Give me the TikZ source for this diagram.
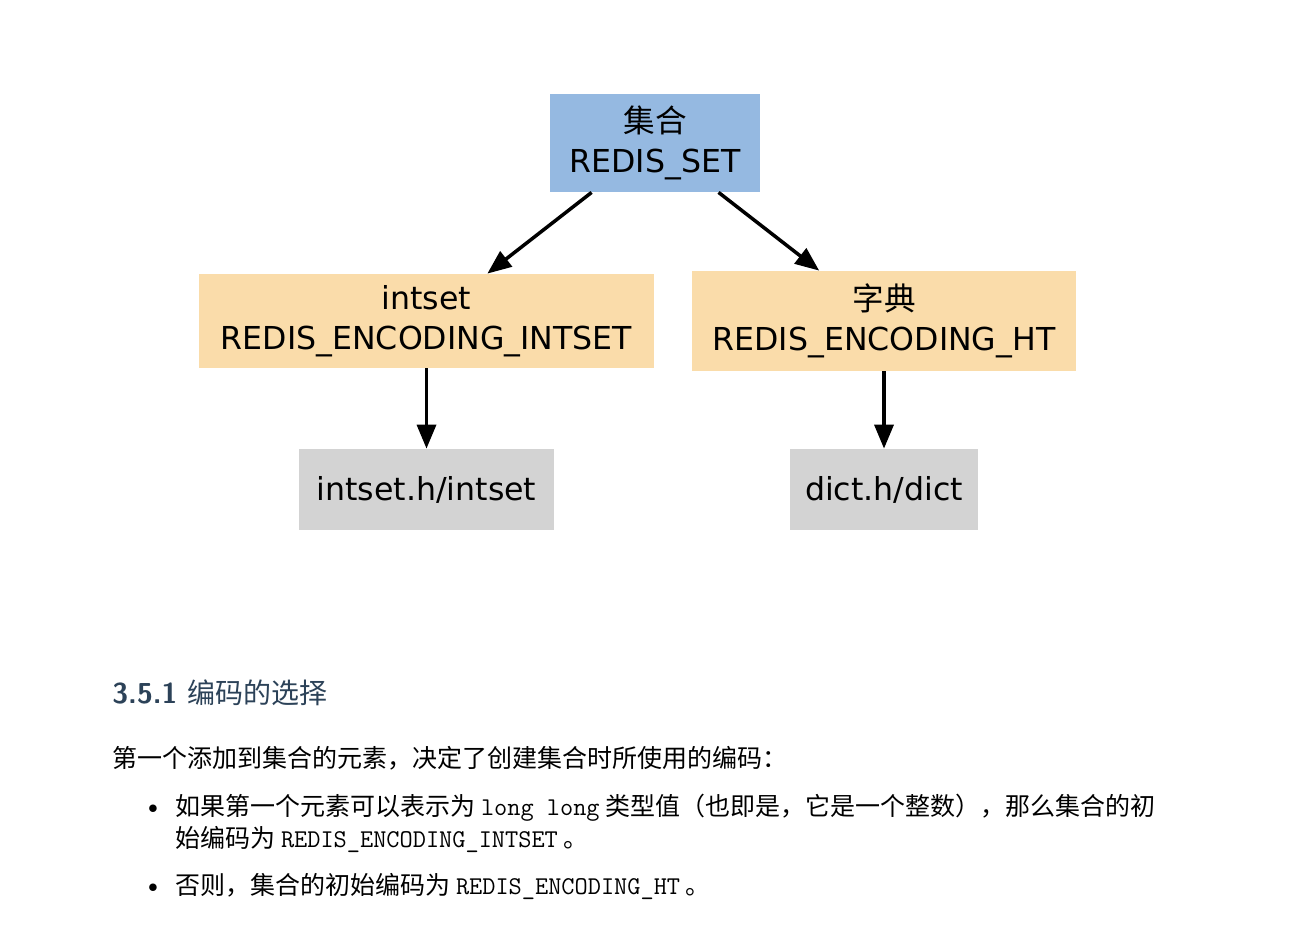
\documentclass[tikz,border=0pt]{standalone}
\usepackage{fontspec}
\newfontfamily\dejavu{DejaVu Sans}
\newfontfamily\cjk{Noto Sans CJK SC}
\usetikzlibrary{arrows.meta}
\definecolor{setblue}{RGB}{149,185,225}
\definecolor{encorange}{RGB}{250,220,170}
\definecolor{implgray}{RGB}{211,211,211}
\definecolor{headcol}{RGB}{44,66,88}
\newcommand{\mytt}[1]{{\fontsize{12.8}{15}\ttfamily #1}}
\begin{document}
\begin{tikzpicture}[x=0.5pt,y=-0.5pt,
  box/.style={inner sep=0pt, align=center, font=\fontsize{15.8}{20}\dejavu},
  conn/.style={line width=1.75pt, -{Triangle[length=12pt,width=9.5pt]}},
  para/.style={anchor=base west, inner sep=0pt, font=\fontsize{12.5}{15}\cjk},
  bul/.style={anchor=base, inner sep=0pt, font=\fontsize{14}{15}\selectfont}]
\useasboundingbox (0,0) rectangle (1304,944);
\fill[white] (0,0) rectangle (1304,944);

\node[box, fill=setblue, minimum width=105pt, minimum height=49pt] (set) at (655,143)
  {{\cjk 集合}\\REDIS\_SET};
\node[box, fill=encorange, minimum width=227.5pt, minimum height=47pt] (intset) at (426.5,321)
  {intset\\REDIS\_ENCODING\_INTSET};
\node[box, fill=encorange, minimum width=192pt, minimum height=50pt] (ht) at (884,321)
  {{\cjk 字典}\\REDIS\_ENCODING\_HT};
\node[box, fill=implgray, minimum width=127.5pt, minimum height=40.5pt] (intseth) at (426.5,489.5)
  {intset.h/intset};
\node[box, fill=implgray, minimum width=94pt, minimum height=40.5pt] (dicth) at (884,489.5)
  {dict.h/dict};

\draw[conn] (set) -- (intset);
\draw[conn] (set) -- (ht);
\draw[conn] (intset) -- (intseth);
\draw[conn] (ht) -- (dicth);

\node[anchor=base west, inner sep=0pt, text=headcol] (head) at (112,703)
  {{\fontsize{14.4}{17}\sffamily\bfseries 3.5.1}\hspace{5pt}{\fontsize{14}{17}\cjk 编码的选择}};
\node[para] (p1) at (112,767) {第一个添加到集合的元素，决定了创建集合时所使用的编码：};
\node[bul] (b1) at (153,815) {\textbullet};
\node[para] (l1) at (175,815) {如果第一个元素可以表示为 \mytt{long long} 类型值（也即是，它是一个整数），那么集合的初};
\node[para] (l2) at (175,847) {始编码为 \mytt{REDIS\_ENCODING\_INTSET} 。};
\node[bul] (b2) at (153,894) {\textbullet};
\node[para] (l3) at (175,894) {否则，集合的初始编码为 \mytt{REDIS\_ENCODING\_HT} 。};
\end{tikzpicture}
\end{document}
